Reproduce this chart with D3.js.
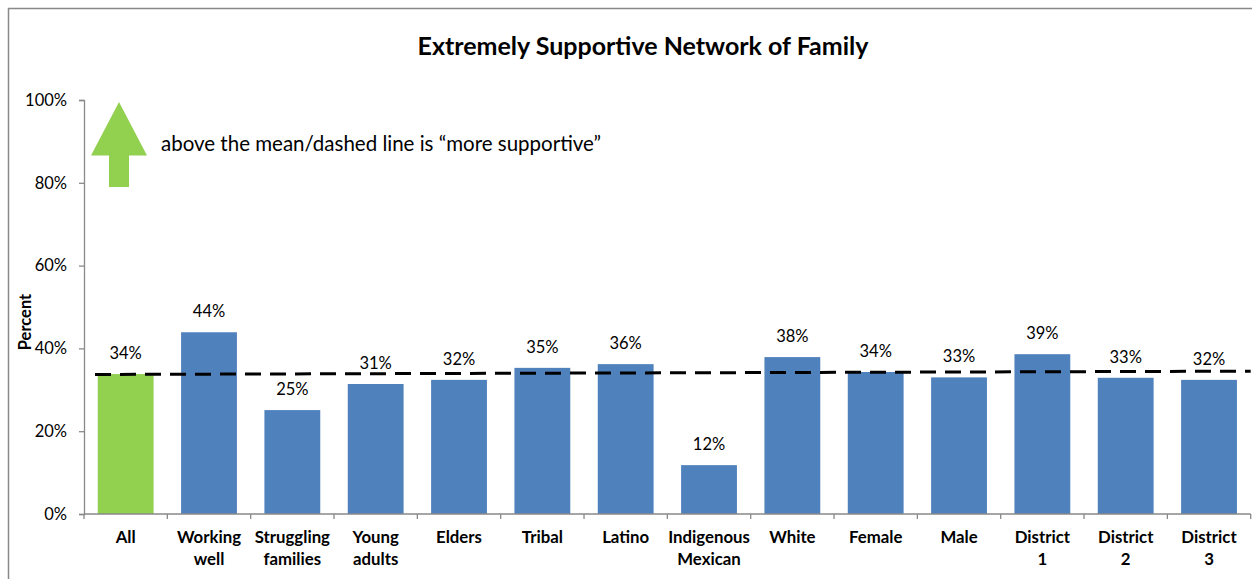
<!DOCTYPE html>
<html><head><meta charset="utf-8">
<script src="https://cdn.jsdelivr.net/npm/d3@7"></script>
<style>body{margin:0;background:#fff;} svg{display:block;font-family:Lato, "Open Sans", sans-serif;}</style>
</head><body>
<svg id="c" width="1252" height="579"></svg>
<script>
const categories = [["All"],["Working","well"],["Struggling","families"],["Young","adults"],["Elders"],["Tribal"],["Latino"],["Indigenous","Mexican"],["White"],["Female"],["Male"],["District","1"],["District","2"],["District","3"]];
const values = [33.8, 43.9, 25.1, 31.4, 32.4, 35.3, 36.2, 11.8, 37.9, 34.3, 33.0, 38.6, 32.9, 32.4];
const labels = ["34%","44%","25%","31%","32%","35%","36%","12%","38%","34%","33%","39%","33%","32%"];
const highlight = [true,false,false,false,false,false,false,false,false,false,false,false,false,false];
const meanLine = [33.7, 34.5];
const yTicks = [0,20,40,60,80,100];
const title = "Extremely Supportive Network of Family";
const yTitle = "Percent";
const note = "above the mean/dashed line is \u201cmore supportive\u201d";

const svg = d3.select("#c");
// outer border
svg.append("rect").attr("x",8.5).attr("y",8.5).attr("width",1260).attr("height",600)
  .attr("fill","none").attr("stroke","#898989").attr("stroke-width",1.5);

const x = d3.scaleBand().domain(d3.range(categories.length)).range([84,1250.7]).paddingInner(0.33).paddingOuter(0.165);
const y = d3.scaleLinear().domain([0,100]).range([514,100]);

// bars
svg.append("g").selectAll("rect").data(values).join("rect")
  .attr("x",(d,i)=>x(i)).attr("width",x.bandwidth())
  .attr("y",d=>y(d)).attr("height",d=>y(0)-y(d))
  .attr("fill",(d,i)=>highlight[i]?"#92D050":"#4F81BD");

// value labels
svg.append("g").selectAll("text").data(values).join("text")
  .attr("x",(d,i)=>x(i)+x.bandwidth()/2).attr("y",d=>y(d)-15)
  .attr("text-anchor","middle").attr("font-size",16.5).attr("fill","#000")
  .text((d,i)=>labels[i]);

// y axis
const yAxis = d3.axisLeft(y).tickValues(yTicks).tickFormat(d=>d+"%").tickSize(5).tickPadding(12);
const gy = svg.append("g").attr("transform","translate(84,0)").call(yAxis);
gy.selectAll("path,line").attr("stroke","#898989").attr("stroke-width",1.3);
gy.selectAll("text").attr("font-size",16.5).attr("fill","#000").attr("font-family","Lato, sans-serif");

// x axis
const xb = d3.scaleLinear().domain([0,categories.length]).range([84,1250.7]);
const gx = svg.append("g").attr("transform","translate(0,514)");
gx.append("line").attr("x1",84).attr("x2",1250.7).attr("stroke","#898989").attr("stroke-width",1.3);
gx.selectAll("line.t").data(d3.range(categories.length+1)).join("line").attr("class","t")
  .attr("x1",d=>xb(d)).attr("x2",d=>xb(d)).attr("y1",0).attr("y2",5)
  .attr("stroke","#898989").attr("stroke-width",1.3);
const cl = gx.selectAll("text").data(categories).join("text")
  .attr("text-anchor","middle").attr("font-size",16.8).attr("font-weight","bold").attr("fill","#000");
cl.each(function(d,i){
  const t=d3.select(this);
  d.forEach((s,j)=>t.append("tspan").attr("x",x(i)+x.bandwidth()/2).attr("y",29+j*21.5).text(s));
});

// mean dashed line
svg.append("line").attr("x1",95).attr("x2",1250.7)
  .attr("y1",y(meanLine[0])).attr("y2",y(meanLine[1]))
  .attr("stroke","#000").attr("stroke-width",3).attr("stroke-dasharray","16,9");

// title
svg.append("text").attr("x",643).attr("y",55).attr("text-anchor","middle")
  .attr("font-size",25).attr("font-weight","bold").text(title);
// y title
svg.append("text").attr("transform","translate(31,322) rotate(-90)").attr("text-anchor","middle")
  .attr("font-size",16.5).attr("font-weight","bold").text(yTitle);

// arrow
const ax = 119;
svg.append("path").attr("fill","#92D050")
  .attr("d",`M${ax},${y(99.5)} L${ax+28},${y(86.6)} L${ax+10},${y(86.6)} L${ax+10},${y(79)} L${ax-10},${y(79)} L${ax-10},${y(86.6)} L${ax-28},${y(86.6)} Z`);
svg.append("text").attr("x",161).attr("y",151).attr("font-size",20.5).text(note);
</script>
</body></html>
